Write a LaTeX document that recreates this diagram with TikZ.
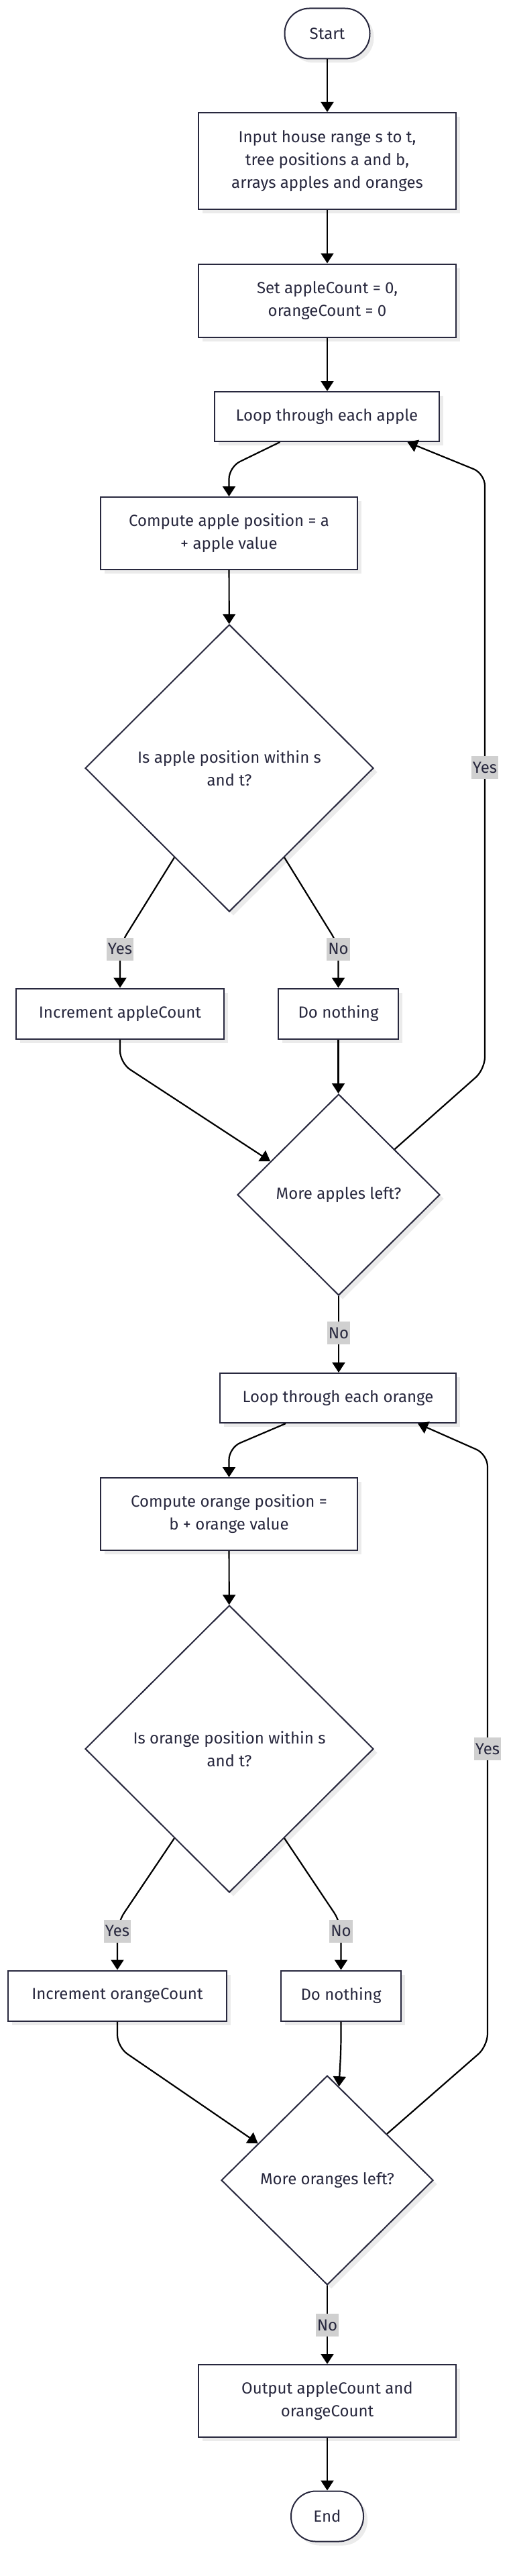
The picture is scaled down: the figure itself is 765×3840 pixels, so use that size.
\documentclass[tikz,border=0pt]{standalone}
\usepackage{fontspec}
\setmainfont{Fira Sans}
\usetikzlibrary{shapes.geometric,arrows.meta,calc,shadows}
\definecolor{nodeline}{RGB}{40,40,62}
\definecolor{txt}{RGB}{40,40,62}
\definecolor{lblbg}{RGB}{208,208,208}
\tikzset{
  base/.style={draw=nodeline, line width=2pt, fill=white, text=txt,
    font=\fontsize{24}{34}\selectfont, align=center, inner sep=0pt,
    drop shadow={shadow xshift=6pt, shadow yshift=-6pt, fill=black!8, opacity=1}},
  proc/.style={base, rectangle},
  term/.style={base, rectangle, rounded corners=37pt},
  dec/.style={base, diamond},
  arr/.style={draw=black, line width=2.2pt, -{Triangle[length=15pt,width=19pt]}, rounded corners=18pt},
  lbl/.style={fill=lblbg, text=txt, font=\fontsize{24}{28}\selectfont, inner sep=2pt, minimum height=34pt},
}
\begin{document}
\begin{tikzpicture}[x=1pt,y=-1pt]
\useasboundingbox (0,0) rectangle (765,3840);
% nodes
\node[term, minimum width=127pt, minimum height=75pt] (start) at (488,50) {Start};
\node[proc, minimum width=384pt, minimum height=144pt] (input) at (488,240) {Input house range s to t,\\tree positions a and b,\\arrays apples and oranges};
\node[proc, minimum width=384pt, minimum height=109pt] (set) at (488,448) {Set appleCount = 0,\\orangeCount = 0};
\node[proc, minimum width=335pt, minimum height=74pt] (loopA) at (487.5,621) {Loop through each apple};
\node[proc, minimum width=383pt, minimum height=108pt] (compA) at (341.5,795) {Compute apple position = a\\+ apple value};
\node[dec, minimum width=430pt, minimum height=428pt] (dec1) at (342,1145) {Is apple position within s\\and t?};
\node[proc, minimum width=310pt, minimum height=75pt] (incA) at (179,1511) {Increment appleCount};
\node[proc, minimum width=179pt, minimum height=75pt] (nothA) at (504.5,1511) {Do nothing};
\node[dec, minimum width=302pt, minimum height=300pt] (dec2) at (505,1781) {More apples left?};
\node[proc, minimum width=352pt, minimum height=74pt] (loopO) at (504,2084) {Loop through each orange};
\node[proc, minimum width=383pt, minimum height=108pt] (compO) at (341.5,2257) {Compute orange position =\\b + orange value};
\node[dec, minimum width=430pt, minimum height=428pt] (dec3) at (342,2607) {Is orange position within s\\and t?};
\node[proc, minimum width=326pt, minimum height=75pt] (incO) at (175,2975) {Increment orangeCount};
\node[proc, minimum width=179pt, minimum height=75pt] (nothO) at (508.5,2975) {Do nothing};
\node[dec, minimum width=316pt, minimum height=312pt] (dec4) at (488,3250) {More oranges left?};
\node[proc, minimum width=384pt, minimum height=108pt] (output) at (488,3579) {Output appleCount and\\orangeCount};
\node[term, minimum width=108pt, minimum height=75pt] (stop) at (488,3751) {End};
% bend coordinates
\coordinate (cA1) at (723,1594);
\coordinate (cA2) at (723,706);
\coordinate (cO1) at (727,3050);
\coordinate (cO2) at (727,2168);
% edges
\draw[arr] (start) -- (input);
\draw[arr] (input) -- (set);
\draw[arr] (set.south) -- (set.south |- loopA.north);
\draw[arr] ($(loopA.south)+(-70,0)$) -- ($(compA.north)+(0,-44)$) -- (compA.north);
\draw[arr] (compA) -- (dec1);
\draw[arr] ($(dec1.west)!0.62!(dec1.south)$) -- ($(incA.north)+(0,-64)$) -- (incA.north);
\draw[arr] ($(dec1.south)!0.38!(dec1.east)$) -- ($(nothA.north)+(0,-64)$) -- (nothA.north);
\draw[arr] (incA.south) -- ($(incA.south)+(0,35)$) -- ($(dec2.west)!0.33!(dec2.north)$);
\draw[arr] (nothA.south) -- (nothA.south |- dec2.north);
\draw[arr] ($(dec2.north)!0.55!(dec2.east)$) -- (cA1) -- (cA2) -- ($(loopA.south)+(120,0)$);
\draw[arr] (dec2.south) -- (dec2.south |- loopO.north);
\draw[arr] ($(loopO.south)+(-78,0)$) -- ($(compO.north)+(0,-44)$) -- (compO.north);
\draw[arr] (compO) -- (dec3);
\draw[arr] ($(dec3.west)!0.62!(dec3.south)$) -- ($(incO.north)+(0,-70)$) -- (incO.north);
\draw[arr] ($(dec3.south)!0.38!(dec3.east)$) -- ($(nothO.north)+(0,-70)$) -- (nothO.north);
\draw[arr] (incO.south) -- ($(incO.south)+(0,38)$) -- ($(dec4.west)!0.35!(dec4.north)$);
\draw[arr] (nothO.south) -- ($(nothO.south)+(0,40)$) -- ($(dec4.north)!0.11!(dec4.east)$);
\draw[arr] ($(dec4.north)!0.56!(dec4.east)$) -- (cO1) -- (cO2) -- ($(loopO.south)+(119,0)$);
\draw[arr] (dec4) -- (output);
\draw[arr] (output) -- (stop);
% labels
\node[lbl] (l1) at ($(incA.north)+(0,-58)$) {Yes};
\node[lbl] (l2) at ($(nothA.north)+(0,-58)$) {No};
\node[lbl] (l3) at (723,1144) {Yes};
\node[lbl] (l4) at (505,1987) {No};
\node[lbl] (l5) at ($(incO.north)+(0,-58)$) {Yes};
\node[lbl] (l6) at ($(nothO.north)+(0,-58)$) {No};
\node[lbl] (l7) at (727,2607) {Yes};
\node[lbl] (l8) at (488,3466) {No};
\end{tikzpicture}
\end{document}
